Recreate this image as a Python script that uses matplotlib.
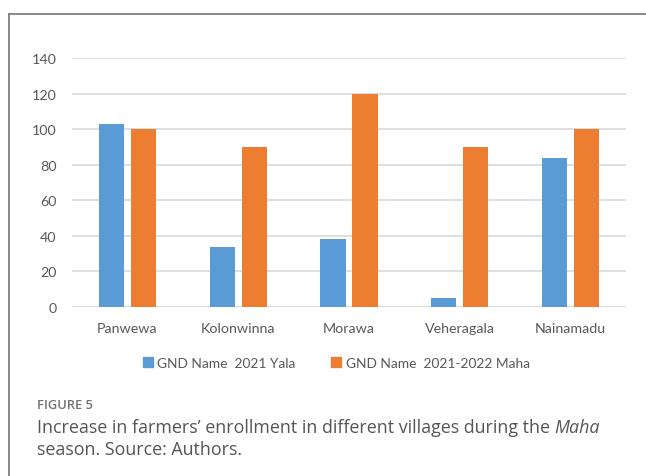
import matplotlib.pyplot as plt
import numpy as np
from matplotlib.lines import Line2D

villages = ["Panwewa", "Kolonwinna", "Morawa", "Veheragala", "Nainamadu"]
yala_2021 = [103, 34, 38, 5, 84]
maha_2021_22 = [100, 90, 120, 90, 100]
series_names = ["GND Name  2021 Yala", "GND Name  2021-2022 Maha"]
y_ticks = [0, 20, 40, 60, 80, 100, 120, 140]

blue = "#5b9bd5"
orange = "#ed7d31"
tick_color = "#595959"
W, H = 646, 477

fig = plt.figure(figsize=(W / 100, H / 100), dpi=100)

# frame around the figure panel (left + top only)
fig.add_artist(Line2D([9 / W, 9 / W], [0, 1 - 15 / H], transform=fig.transFigure,
                      color="#7f7f7f", lw=1.3))
fig.add_artist(Line2D([9 / W, 1], [1 - 15 / H, 1 - 15 / H], transform=fig.transFigure,
                      color="#7f7f7f", lw=1.3))

ax = fig.add_axes([72 / W, 1 - 308 / H, 554 / W, 249 / H])
x = np.arange(len(villages))
w = 0.226
gap = 0.063
ax.bar(x - (w + gap) / 2, yala_2021, width=w, color=blue, zorder=3)
ax.bar(x + (w + gap) / 2, maha_2021_22, width=w, color=orange, zorder=3)

ax.set_xlim(-0.5, len(villages) - 0.5)
ax.set_ylim(0, 140)
ax.set_yticks(y_ticks)
ax.set_xticks(x)
ax.set_xticklabels(villages)
ax.yaxis.grid(True, color="#d9d9d9", lw=1.2, zorder=0)
for s in ax.spines.values():
    s.set_visible(False)
ax.tick_params(axis="both", length=0, colors=tick_color, labelsize=10.3, labelfontfamily="Lato")
ax.tick_params(axis="x", pad=11)
ax.tick_params(axis="y", pad=11)
ax.axhline(0, color="#d9d9d9", lw=1.2, zorder=1)

handles = [plt.Rectangle((0, 0), 1, 1, color=blue), plt.Rectangle((0, 0), 1, 1, color=orange)]
fig.legend(handles, series_names, loc="center", bbox_to_anchor=(336 / W, 1 - 364 / H),
           ncol=2, frameon=False, handlelength=0.75, handleheight=0.75, handletextpad=0.3,
           columnspacing=2.6, prop={"family": "Lato", "size": 9.9}, labelcolor=tick_color)

cap_color = "#555555"
fig.text(37 / W, 1 - 406 / H, "FIGURE 5", fontsize=9.3, color="#737373",
         family="Open Sans", weight="semibold", va="center")
t1 = fig.text(37 / W, 1 - 428 / H,
              "Increase in farmers\u2019 enrollment in different villages during the ",
              fontsize=12.9, color=cap_color, family="Open Sans", va="center")
fig.canvas.draw()
bb = t1.get_window_extent()
fig.text(bb.x1 / W, 1 - 428 / H, "Maha", fontsize=12.9, color=cap_color,
         family="Open Sans", style="italic", va="center")
fig.text(37 / W, 1 - 450 / H, "season. Source: Authors.",
         fontsize=12.9, color=cap_color, family="Open Sans", va="center")

fig.savefig("out.png", dpi=100)
